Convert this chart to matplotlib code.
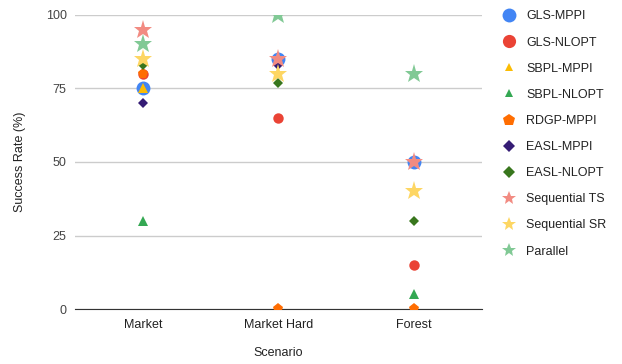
import numpy as np
import matplotlib.pyplot as plt

plt.rcParams['font.family'] = ['Liberation Sans', 'DejaVu Sans']

scenarios = ['Market', 'Market Hard', 'Forest']
nan = np.nan

# success rate (%) per method, one value per scenario
gls_mppi = [75, 85, 50]
gls_nlopt = [80, 65, 15]
sbpl_mppi = [75, nan, nan]
sbpl_nlopt = [30, nan, 5]
rdgp_mppi = [80, 0, 0]
easl_mppi = [70, 83, nan]
easl_nlopt = [83, 77, 30]
seq_ts = [95, 85, 50]
seq_sr = [85, 80, 40]
parallel = [90, 100, 80]

# name, data, marker, plot size, legend size, colour
series = [
    ('GLS-MPPI', gls_mppi, 'o', 10, 10, '#4285f4'),
    ('GLS-NLOPT', gls_nlopt, 'o', 7.5, 9.5, '#ea4335'),
    ('SBPL-MPPI', sbpl_mppi, '^', 6.5, 6, '#fbbc04'),
    ('SBPL-NLOPT', sbpl_nlopt, '^', 6.5, 6, '#34a853'),
    ('RDGP-MPPI', rdgp_mppi, 'p', 8, 9, '#ff6d01'),
    ('EASL-MPPI', easl_mppi, 'D', 5, 6.5, '#351c75'),
    ('EASL-NLOPT', easl_nlopt, 'D', 5, 6.5, '#38761d'),
    ('Sequential TS', seq_ts, '*', 14, 10, '#f28b82'),
    ('Sequential SR', seq_sr, '*', 14, 10, '#fdd663'),
    ('Parallel', parallel, '*', 14, 10, '#81c995'),
]

fig = plt.figure(figsize=(6.22, 3.64), dpi=100)
ax = fig.add_axes([0.1206, 0.151, 0.654, 0.808])

x = np.arange(len(scenarios))
for i, (name, vals, mk, ms, lms, col) in enumerate(series):
    ax.plot(x, vals, linestyle='none', marker=mk, markersize=ms,
            color=col, markeredgewidth=0, label=name, zorder=3 + i)

ax.set_xlim(-0.5, 2.5)
ax.set_ylim(0, 100)
ax.set_yticks([0, 25, 50, 75, 100])
ax.set_xticks(x)
ax.set_xticklabels(scenarios)
ax.grid(axis='y', color='#cccccc', linewidth=1)
ax.set_axisbelow(True)
for s in ['top', 'right', 'left']:
    ax.spines[s].set_visible(False)
ax.spines['bottom'].set_color('#333333')
ax.tick_params(length=0, labelsize=9, colors='#444444', pad=6)
ax.tick_params(axis='x', colors='#222222', pad=7)

ax.set_xlabel('Scenario', fontsize=9, color='#222222', labelpad=12)
ax.set_ylabel('Success Rate (%)', fontsize=9, color='#222222', labelpad=14)

leg = fig.legend(loc='upper left', bbox_to_anchor=(0.8, 0.985), frameon=False,
                 fontsize=9, labelspacing=1.13, handletextpad=0.9,
                 handlelength=1.0, borderaxespad=0)
for h, s in zip(leg.legend_handles, series):
    h.set_markersize(s[4])
for t in leg.get_texts():
    t.set_color('#222222')

fig.savefig('out.png', dpi=100)
